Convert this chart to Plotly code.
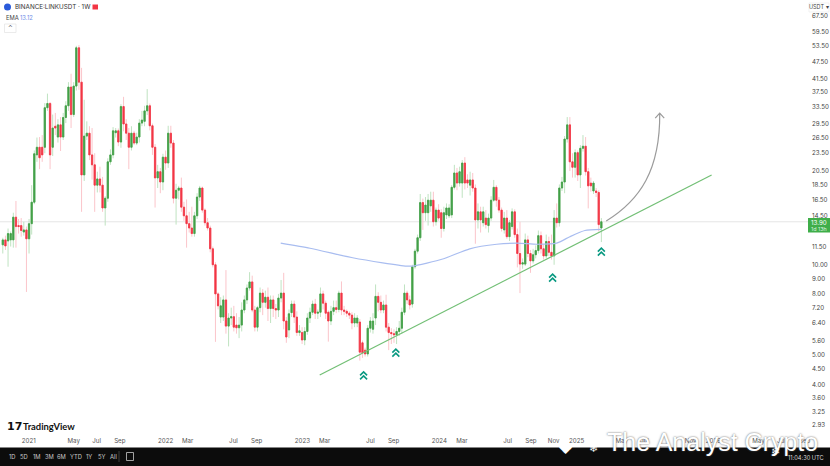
import pandas as pd
import plotly.graph_objects as go

start_week = "2020-10-19"
opens = [
11.65,12.1,12.0,12.1,12.1,14.4,13.5,13.5,12.85,13.06,
12.2,13.7,16.15,23.2,24.6,24.6,24.6,33.3,34.4,24.6,
28.9,26.6,29.2,26.6,30.9,33.8,39,31.6,39.3,52.7,
40.5,19.9,26.8,27.4,23.2,21.5,18.4,19.3,18.4,15.45,
16.65,22,23.2,27.5,27.9,25.6,33.6,29.4,27.4,24.6,
27.4,25.4,26.6,29.6,30,32.5,33.8,29,24.6,19.45,
20.4,18.85,22.8,21.8,27.4,25.4,16.65,17.7,18,15.55,
14.55,13.7,13.25,12.7,14.55,16.8,18,15.2,13.8,13.25,
11.3,10,8,6.7,6.7,7.64,6.25,6.65,6.72,6.3,
6.17,6.3,7.07,7.64,8.37,8.77,7.07,6.2,7.2,8.05,
7.5,7.8,7.15,7.64,7.15,7.07,7.75,8.05,6.5,6.07,
6.93,7.4,6.7,5.95,5.95,5.62,6,6.65,6.95,7.4,
6.9,6.95,8,7.45,6.95,6.5,7,7.2,7.1,8.05,
7.07,7,6.9,6.8,6.4,6.4,6.45,5.5,5.2,5.05,
6.15,6.1,6.65,7.85,7.5,7.07,7.35,6.2,5.95,5.9,
5.85,6.0,6.15,6.95,8.05,7.64,7.4,9.85,11.1,12.3,
16.1,14.9,14.9,15.7,16.4,13.9,15.2,14.9,13.2,14.65,
14.55,14.65,18.1,20.2,18.7,18.7,21.8,19.15,18.4,19.15,
18,14.1,15,13.8,14.3,13.5,14.3,16.4,18.1,16.4,
15.2,13.06,14.3,12.4,13.4,15,12.6,10.9,10.05,10.05,
12.1,10.9,10.3,10.8,11.15,12.5,11.3,10.7,11.95,11,
10.7,14.3,13.8,18,18.85,26.2,29.2,22,21.1,23.6,
19.9,24.4,24.8,20.4,18.7,17.6,17.6,17.4,13.25]
closes = [
12.1,11.55,12.7,12.7,14.4,13.4,13.4,13.0,13.06,12.2,
13.7,16.15,23.4,24.6,22.7,23.2,33.3,34.4,23.2,28.5,
28.5,29.2,26.6,30.9,33.8,39,31.6,39.3,52.7,40.5,
19.9,26.8,27.4,23.2,21.5,18.4,19.3,18.4,15.45,16.65,
22,23.2,27.9,27.9,25.6,33.6,29.4,27.4,24.6,27.4,
25.4,26.6,29.6,30.3,32.5,33.8,29,24.6,19.45,20.4,
18.85,22.8,21.8,27.4,25.4,16.65,17.7,18,15.55,14.55,
13.7,13.25,12.7,14.55,16.8,18,15.2,13.8,13.25,11.3,
10,8,7.3,7.3,7.64,6.25,6.65,6.72,6.2,6.17,
6.3,7.07,7.64,8.37,8.77,7.07,6.2,7.2,8.05,7.5,
7.8,7.15,7.64,7.15,7.07,7.75,8.05,6.5,5.75,6.87,
7.4,6.7,5.95,6.03,5.62,6,6.65,6.95,7.4,6.9,
6.95,8,7.45,6.9,6.5,7,7.2,7.1,8.05,7.07,
7,6.9,6.8,6.4,6.65,6.65,5.12,5.1,5.05,6.15,
6.5,6.5,7.85,7.5,7.07,7.35,6.2,5.95,5.9,5.85,
6.0,6.15,6.95,8.05,7.64,7.35,9.85,11.1,12.3,16.1,
14.9,15.8,16.4,16.4,13.9,15.2,14.3,13.2,14.9,15.45,
15.45,18.1,20.2,18.7,20.4,21.8,18.7,18.7,19.15,18,
14.1,15,14.1,15,13.6,14.3,16.4,18.1,16.4,15.2,
13.2,14.3,12.4,13.8,15,12.6,10.9,10.05,10.15,12.1,
10.9,10.3,10.8,11.15,12.5,11.3,10.7,11.95,11,10.7,
14.3,13.8,18,18.85,26.2,29.2,22,21.1,23.6,19.9,
24.4,24.8,20.4,18.3,18.3,18.7,17.4,13.6,13.9]
highs = [
12.3,12.5,13.2,12.9,14.9,16.3,14.2,14.3,13.9,13.4,
14.2,18.4,24,26.5,26.6,27,34.5,37.1,34.8,31.6,
32,30.5,31,32,35,40.5,43.2,40.5,53.5,53.8,
45.2,35.4,30,28.9,28.5,23.5,20.4,21.2,19.6,16.9,
22.6,24.2,28.7,28.5,28.4,34.2,36.2,30.5,28.5,28.9,
27.9,27.5,30.5,32.5,33.8,38.4,34.4,29.5,25.2,21.5,
21,23.4,24,29,29,26,18.6,18.3,19.5,16.2,
16.5,15,15.6,15,17.3,18.3,18.2,15.4,14.3,13.5,
11.5,10.2,8.1,7.8,7.9,9.6,6.9,7.2,7.3,6.9,
6.7,7.5,7.9,8.6,9.45,9.2,7.3,7.3,8.4,8.3,
8.2,8.4,7.9,7.9,7.4,8,8.9,9.4,6.7,7.1,
7.6,7.6,7,6.3,6.2,6.2,6.9,7.2,7.6,7.7,
7.1,8.4,8.2,7.6,7.05,7.3,7.6,7.6,8.2,8.8,
7.3,7.1,7,6.95,6.9,6.8,6.6,5.6,5.3,6.3,
6.7,6.9,8.6,8.1,7.9,7.6,7.95,6.4,6.15,6.1,
6.2,6.5,7.2,8.6,8.2,7.9,10,11.3,12.6,17.2,
16.6,16.8,17.2,17.5,17.5,15.5,15.9,15.3,15.6,16,
15.9,18.4,21.5,21,21.2,22.3,22.8,20,20.4,20.2,
18.5,16,15.6,15.6,15.2,14.8,16.9,19.15,18.4,16.8,
15.5,15,15.2,14.1,15.4,15.3,13.2,13.9,10.5,12.7,
12.5,11.2,11.3,11.6,13,12.9,11.7,12.6,12.4,12.6,
15.2,16,18.5,19.6,26.8,31,31,23.5,24.2,24,
25,27,26.6,21,19.5,19,18,17.7,14.3]
lows = [
10.9,11.2,9.85,11.5,11.4,11.4,12.7,12.4,12.5,8.12,
10.9,12.6,15.9,22,20.8,22,23.5,32.5,20.8,23,
27,25.5,23.9,26,29.6,32.5,28.5,31,38,38.2,
15,19,26,22.3,19.2,15,17.4,17.4,15,13.5,
16.2,21.5,22.6,26.5,24.8,24.5,27.8,26,20.8,24,
25,25,25.5,28.9,28.9,31.5,28,23.2,15.5,18,
17.3,17.7,20.7,21,24.5,16,13.6,16.5,15,14,
11.4,12.8,12.4,12.4,14.2,16.3,14.9,13.5,13,11,
9.8,5.54,7.1,6.4,6.5,5.9,5.35,6.3,6,5.9,
5.7,6,6.9,7.4,8.2,6.95,6,6,6.95,6.8,
7.2,6.5,6.4,6.7,6.6,6.7,7.5,6.1,5.5,5.7,
6.7,6.4,5.8,5.8,5.45,5.4,5.85,6.4,6.8,6.6,
6.6,6.7,7.1,6.6,5.55,6.3,6.8,6.9,6.95,6.8,
6.8,6.7,6.6,6.1,6.2,6.2,4.8,4.9,4.95,4.95,
5.95,5.9,6.3,7,6.9,6.9,6,5.2,5.45,5.5,
5.45,5.8,5.9,6.8,7.4,7.1,7.2,9.7,10.9,12,
13.06,14,13.5,15,13.4,13.5,14,12.3,12.9,14.2,
14.3,14.3,17.8,17.7,18.2,16.7,17.8,18,17,17.5,
11.75,13.2,12.8,13.4,13.2,12.8,14,16.2,15.6,14.9,
12.9,12.7,12.2,12,13.1,12.3,9.8,8.05,9.7,9.9,
10.6,9.4,10.1,10.5,10.9,10.9,10.4,10.5,10.7,10.4,
10,13.3,13.4,17.6,17.3,25.5,20.5,19.5,19.5,19,
18,23.8,19.8,15.4,17.5,17.2,16.8,12.9,11.9]

ema_dates = ["2022-10-30","2023-01-16","2023-05-10","2023-07-29","2023-10-01","2023-10-17","2024-01-05",
             "2024-03-17","2024-05-28","2024-07-21","2024-09-12","2024-11-04","2024-12-09","2025-01-18","2025-03-03"]
ema_values = [11.8,11.35,10.55,10.15,9.9,9.9,10.45,11.3,11.7,11.8,11.7,11.8,12.4,13.0,13.12]
trend_dates = ["2023-02-11","2025-12-22"]
trend_prices = [4.30,19.9]
chevron_dates = ["2023-06-08","2023-09-02","2024-10-24","2025-03-03"]
chevron_prices = [4.30,5.12,9.1,11.1]
last_price = 13.90
y_ticks = [67.5,59.5,53.5,47.5,41.5,37.5,33.5,29.5,26.5,23.5,20.5,18.5,16.5,14.5,11.5,10,9,8,7.2,6.4,5.6,5,4.5,4,3.6,3.25,2.93]
x_tick_dates = ["2021-01-01","2021-05-01","2021-07-01","2021-09-01","2022-01-01","2022-03-01","2022-07-01","2022-09-01",
                "2023-01-01","2023-03-01","2023-07-01","2023-09-01","2024-01-01","2024-03-01","2024-07-01","2024-09-01",
                "2024-11-01","2025-01-01","2025-05-01","2025-07-01","2025-11-01","2026-01-01","2026-05-01","2026-07-01","2026-09-01"]
x_tick_labels = ["2021","May","Jul","Sep","2022","Mar","Jul","Sep","2023","Mar","Jul","Sep","2024","Mar","Jul","Sep",
                 "Nov","2025","May","Jul","Nov","2026","May","Jul","Sep"]

weeks = pd.date_range(start_week, periods=len(opens), freq="7D")
tops = [max(o, c) for o, c in zip(opens, closes)]
bottoms = [min(o, c) for o, c in zip(opens, closes)]
tick_positions = [pd.Timestamp(d) - pd.Timedelta(days=5) for d in x_tick_dates]

W, H = 808, 434
def fx(px): return px / W
def fy(py): return 1 - py / H

GREEN, RED = "#43a047", "#f23645"
FONT = "Inter, Roboto, sans-serif"

fig = go.Figure()
fig.add_trace(go.Candlestick(x=weeks, open=opens, high=highs, low=lows, close=closes,
    increasing=dict(line=dict(color="#bfe3c1", width=1), fillcolor="#bfe3c1"),
    decreasing=dict(line=dict(color="#fbc5ca", width=1), fillcolor="#fbc5ca"),
    whiskerwidth=0, showlegend=False, hoverinfo="skip"))
fig.add_trace(go.Candlestick(x=weeks, open=opens, high=tops, low=bottoms, close=closes,
    increasing=dict(line=dict(color=GREEN, width=0.8), fillcolor=GREEN),
    decreasing=dict(line=dict(color=RED, width=0.8), fillcolor=RED),
    whiskerwidth=0, showlegend=False, hoverinfo="skip"))
fig.add_trace(go.Scatter(x=ema_dates, y=ema_values, mode="lines",
    line=dict(color="#a9bdf0", width=1.2, shape="spline", smoothing=0.6), showlegend=False, hoverinfo="skip"))
fig.add_trace(go.Scatter(x=trend_dates, y=trend_prices, mode="lines",
    line=dict(color="#72bf75", width=1.2), showlegend=False, hoverinfo="skip"))

shapes = [dict(type="line", xref="paper", x0=0, x1=1, yref="y", y0=last_price, y1=last_price,
               line=dict(color="#e6e6e6", width=1), layer="below")]
for d, p in zip(chevron_dates, chevron_prices):
    shapes.append(dict(type="path", xref="x", yref="y", xsizemode="pixel", ysizemode="pixel",
        xanchor=d, yanchor=p, path="M-3.5,-0.5 L0,3 L3.5,-0.5 M-3.5,-4.5 L0,-1 L3.5,-4.5",
        line=dict(color="#089981", width=1.6)))
shapes.append(dict(type="path", xref="x", yref="y", xsizemode="pixel", ysizemode="pixel",
    xanchor="2025-03-16", yanchor=13.98,
    path="M0,0 C34,21 54,51 53.5,108 M49,103 L53.5,108 L58,103",
    line=dict(color="#9b9b9b", width=1.2)))
# header and footer furniture
shapes += [
    dict(type="rect", xref="paper", yref="paper", x0=fx(0), x1=fx(830), y0=fy(447.5), y1=fy(466),
         fillcolor="#0c0c0c", line=dict(width=0), layer="above"),
    dict(type="rect", xref="paper", yref="paper", x0=fx(808), x1=fx(830), y0=fy(218), y1=fy(232.5),
         fillcolor="#3fae49", line=dict(width=0), layer="above"),
    dict(type="circle", xref="paper", yref="paper", x0=fx(4), x1=fx(11), y0=fy(3.5), y1=fy(10.5),
         fillcolor="#2a5ada", line=dict(width=0), layer="above"),
    dict(type="rect", xref="paper", yref="paper", x0=fx(92.5), x1=fx(98), y0=fy(4.5), y1=fy(9.5),
         fillcolor="#f23645", line=dict(width=0), layer="above"),
    dict(type="rect", xref="paper", yref="paper", x0=fx(4.5), x1=fx(16), y0=fy(24), y1=fy(32.5),
         fillcolor="white", line=dict(color="#e3e3e3", width=0.7), layer="above"),
    dict(type="rect", xref="paper", yref="paper", x0=fx(809), x1=fx(829), y0=fy(3), y1=fy(12),
         fillcolor="white", line=dict(color="#ececec", width=0.7), layer="above"),
    dict(type="line", xref="paper", yref="paper", x0=fx(119), x1=fx(119), y0=fy(451), y1=fy(462),
         line=dict(color="#555555", width=0.7), layer="above"),
    dict(type="rect", xref="paper", yref="paper", x0=fx(126.5), x1=fx(133.5), y0=fy(452.5), y1=fy(460.5),
         line=dict(color="#c8c8c8", width=0.8), layer="above"),
]

def note(px, py, text, size=6.5, color="#444444", anchor="left", family=FONT, **kw):
    return dict(xref="paper", yref="paper", x=fx(px), y=fy(py), text=text, showarrow=False,
                xanchor=anchor, yanchor="middle", font=dict(family=family, size=size, color=color, **kw))

annotations = [
    note(13, 7, "BINANCE:LINKUSDT · 1W", size=6.3, color="#333333"),
    note(4, 17.5, "EMA", size=5.8),
    note(18, 17.5, "13.12", size=5.8, color="#6f8fe8"),
    note(10.2, 28, "⌃", size=6, anchor="center"),
    note(819, 7.5, "USDT ▾", size=5.5, anchor="center"),
    note(819, 222, "13.90", size=6.2, color="white", anchor="center"),
    note(819, 228.5, "1d 13h", size=5.4, color="#dff3e0", anchor="center"),
    note(5, 426.5, "17", size=11, color="#111111", family="Liberation Sans Narrow, DejaVu Sans", weight="bold"),
    note(21, 426.5, "TradingView", size=9.4, color="#111111", family="Lato, Roboto, sans-serif", weight="bold"),
]
for px, t in zip([7, 18, 31, 43, 55, 68, 84, 96, 108],
                 ["1D", "5D", "1M", "3M", "6M", "YTD", "1Y", "5Y", "All"]):
    annotations.append(note(px, 456.5, t, size=5.8, color="#c8c8c8"))
annotations += [
    note(566, 446, "◆", size=17, color="white", anchor="center", family="DejaVu Sans"),
    note(593, 449, "❄", size=11, color="white", anchor="center", family="DejaVu Sans"),
    note(605, 442, "The Analyst Crypto", size=25, color="white", family="Liberation Sans", shadow="0 0 2px #555"),
    note(775, 452, "❄", size=11, color="white", anchor="center", family="DejaVu Sans"),
    note(826, 457.5, "11:04:30 UTC", size=5.7, color="#d8d8d8", anchor="right"),
]

fig.update_layout(
    width=830, height=466, margin=dict(l=0, r=22, t=0, b=32, pad=0), autosize=False,
    paper_bgcolor="white", plot_bgcolor="white", showlegend=False, shapes=shapes, annotations=annotations,
    font=dict(family=FONT, size=6.5, color="#444444"),
    xaxis=dict(type="date", range=["2020-10-11 12:00", "2026-09-05"], rangeslider=dict(visible=False),
               showgrid=False, zeroline=False, showline=False, ticks="", tickmode="array",
               tickvals=tick_positions, ticktext=x_tick_labels, tickfont=dict(size=6.2, color="#555555"),
               ticklabelstandoff=2),
    yaxis=dict(type="log", side="right", range=[0.437, 1.8808], showgrid=False, zeroline=False, showline=False,
               ticks="", tickmode="array", tickvals=y_ticks, ticktext=[f"{v:.2f}" for v in y_ticks],
               tickfont=dict(size=6.2, color="#444444"), ticklabelstandoff=3),
)
fig.write_html("out.html", config={"displayModeBar": False},
               post_script="document.body.style.margin='0';document.body.style.overflow='hidden';")
